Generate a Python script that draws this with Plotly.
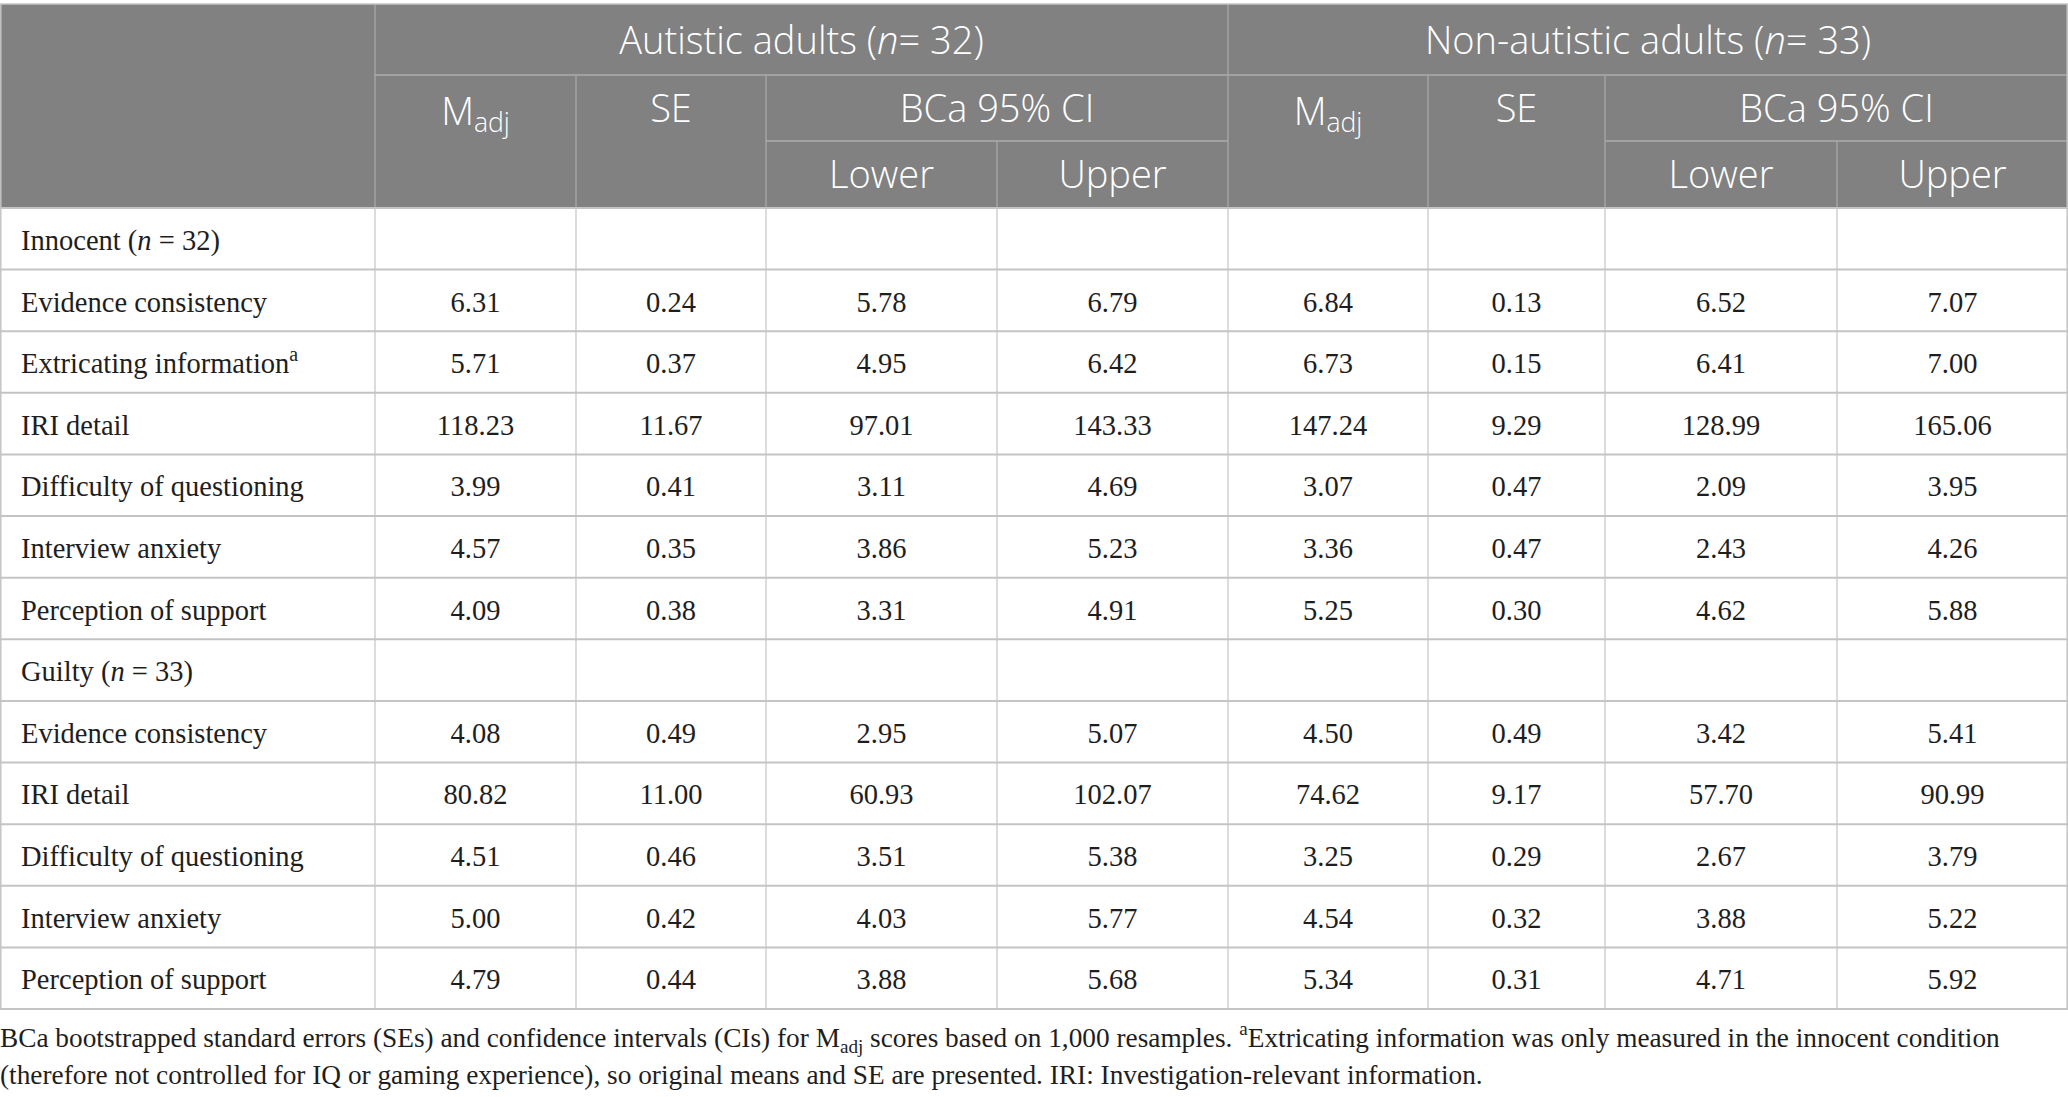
import plotly.graph_objects as go

# ---------------- data ----------------
group_labels = ["Autistic adults (<i>n</i>= 32)", "Non-autistic adults (<i>n</i>= 33)"]
sub_headers = ["M<sub>adj</sub>", "SE", "BCa 95% CI"]
ci_headers = ["Lower", "Upper"]

innocent_title = "Innocent (<i>n</i> = 32)"
innocent_measures = ["Evidence consistency", "Extricating information<sup>a</sup>", "IRI detail",
                     "Difficulty of questioning", "Interview anxiety", "Perception of support"]
inn_aut_m = ["6.31", "5.71", "118.23", "3.99", "4.57", "4.09"]
inn_aut_se = ["0.24", "0.37", "11.67", "0.41", "0.35", "0.38"]
inn_aut_lo = ["5.78", "4.95", "97.01", "3.11", "3.86", "3.31"]
inn_aut_hi = ["6.79", "6.42", "143.33", "4.69", "5.23", "4.91"]
inn_non_m = ["6.84", "6.73", "147.24", "3.07", "3.36", "5.25"]
inn_non_se = ["0.13", "0.15", "9.29", "0.47", "0.47", "0.30"]
inn_non_lo = ["6.52", "6.41", "128.99", "2.09", "2.43", "4.62"]
inn_non_hi = ["7.07", "7.00", "165.06", "3.95", "4.26", "5.88"]

guilty_title = "Guilty (<i>n</i> = 33)"
guilty_measures = ["Evidence consistency", "IRI detail", "Difficulty of questioning",
                   "Interview anxiety", "Perception of support"]
gui_aut_m = ["4.08", "80.82", "4.51", "5.00", "4.79"]
gui_aut_se = ["0.49", "11.00", "0.46", "0.42", "0.44"]
gui_aut_lo = ["2.95", "60.93", "3.51", "4.03", "3.88"]
gui_aut_hi = ["5.07", "102.07", "5.38", "5.77", "5.68"]
gui_non_m = ["4.50", "74.62", "3.25", "4.54", "5.34"]
gui_non_se = ["0.49", "9.17", "0.29", "0.32", "0.31"]
gui_non_lo = ["3.42", "57.70", "2.67", "3.88", "4.71"]
gui_non_hi = ["5.41", "90.99", "3.79", "5.22", "5.92"]

footnote_lines = [
    "BCa bootstrapped standard errors (SEs) and confidence intervals (CIs) for M<sub>adj</sub> scores based on 1,000 resamples. "
    "<sup>a</sup>Extricating information was only measured in the innocent condition",
    "(therefore not controlled for IQ or gaming experience), so original means and SE are presented. IRI: Investigation-relevant information.",
]

# ---------------- layout constants ----------------
W, H = 2068, 1097
col_edges = [0, 375, 576, 766, 997, 1228, 1428, 1605, 1837, 2068]
head_top, head_r1, head_r2, head_bot = 4, 75, 141, 208
n_rows = 1 + len(innocent_measures) + 1 + len(guilty_measures)
table_bot = 1009
row_h = (table_bot - head_bot) / n_rows
row_edges = [head_bot + i * row_h for i in range(n_rows + 1)]

HEAD_BG = "#808180"
HEAD_LINE = "#acacac"
GRID = "#c4c4c4"
TXT = "#1e1e1e"
SERIF = "Liberation Serif"
SANS = "Open Sans"

# rows
rows = [[innocent_title] + [""] * 8]
for i, name in enumerate(innocent_measures):
    rows.append([name, inn_aut_m[i], inn_aut_se[i], inn_aut_lo[i], inn_aut_hi[i],
                 inn_non_m[i], inn_non_se[i], inn_non_lo[i], inn_non_hi[i]])
rows.append([guilty_title] + [""] * 8)
for i, name in enumerate(guilty_measures):
    rows.append([name, gui_aut_m[i], gui_aut_se[i], gui_aut_lo[i], gui_aut_hi[i],
                 gui_non_m[i], gui_non_se[i], gui_non_lo[i], gui_non_hi[i]])

fig = go.Figure()
shapes = []

# header background
shapes.append(dict(type="rect", x0=0, x1=W, y0=head_top, y1=head_bot, fillcolor=HEAD_BG,
                   line=dict(width=0), layer="below"))

def hline(x0, x1, y, color, w=1.5):
    shapes.append(dict(type="line", x0=x0, x1=x1, y0=y, y1=y, line=dict(color=color, width=w)))

def vline(x, y0, y1, color, w=1.2):
    shapes.append(dict(type="line", x0=x, x1=x, y0=y0, y1=y1, line=dict(color=color, width=w)))

# header grid lines
hline(col_edges[1], W, head_r1, HEAD_LINE)
hline(col_edges[3], col_edges[5], head_r2, HEAD_LINE)
hline(col_edges[7], W, head_r2, HEAD_LINE)
vline(col_edges[1], head_top, head_bot, HEAD_LINE)
vline(col_edges[5], head_top, head_bot, HEAD_LINE)
for c in (2, 3, 6, 7):
    vline(col_edges[c], head_r1, head_bot, HEAD_LINE)
for c in (4, 8):
    vline(col_edges[c], head_r2, head_bot, HEAD_LINE)

# body grid
for y in row_edges:
    hline(0, W, y, GRID, 2)
for x in col_edges[1:-1]:
    vline(x, head_bot, table_bot, GRID)
vline(0.8, head_top, table_bot, GRID, 1.5)
vline(W - 0.8, head_top, table_bot, GRID, 1.5)
hline(0, W, head_top, GRID, 1.5)

# header texts
hx, hy, ht = [], [], []
for g in range(2):
    base = 1 + 4 * g
    hx.append((col_edges[base] + col_edges[base + 4]) / 2); hy.append((head_top + head_r1) / 2 + 5); ht.append(group_labels[g])
    hx.append((col_edges[base] + col_edges[base + 1]) / 2); hy.append((head_r1 + head_r2) / 2 + 7); ht.append(sub_headers[0])
    hx.append((col_edges[base + 1] + col_edges[base + 2]) / 2); hy.append((head_r1 + head_r2) / 2 + 4); ht.append(sub_headers[1])
    hx.append((col_edges[base + 2] + col_edges[base + 4]) / 2); hy.append((head_r1 + head_r2) / 2 + 4); ht.append(sub_headers[2])
    hx.append((col_edges[base + 2] + col_edges[base + 3]) / 2); hy.append((head_r2 + head_bot) / 2 + 4); ht.append(ci_headers[0])
    hx.append((col_edges[base + 3] + col_edges[base + 4]) / 2); hy.append((head_r2 + head_bot) / 2 + 4); ht.append(ci_headers[1])
fig.add_trace(go.Scatter(x=hx, y=hy, text=ht, mode="text", textposition="middle center",
                         textfont=dict(family=SANS, size=38, color="white", weight=300),
                         hoverinfo="skip", showlegend=False))

# body texts
lx, ly, lt = [], [], []
nx, ny, nt = [], [], []
for r, row in enumerate(rows):
    yc = (row_edges[r] + row_edges[r + 1]) / 2 + 4
    lx.append(21); ly.append(yc); lt.append(row[0])
    for c in range(1, 9):
        if row[c]:
            nx.append((col_edges[c] + col_edges[c + 1]) / 2); ny.append(yc); nt.append(row[c])
fig.add_trace(go.Scatter(x=lx, y=ly, text=lt, mode="text", textposition="middle right",
                         textfont=dict(family=SERIF, size=28.5, color=TXT),
                         hoverinfo="skip", showlegend=False))
fig.add_trace(go.Scatter(x=nx, y=ny, text=nt, mode="text", textposition="middle center",
                         textfont=dict(family=SERIF, size=28.5, color=TXT),
                         hoverinfo="skip", showlegend=False))

# footnote
fy = [1040, 1077]
fig.add_trace(go.Scatter(x=[0, 0], y=fy, text=footnote_lines, mode="text", textposition="middle right",
                         textfont=dict(family=SERIF, size=27.3, color=TXT),
                         hoverinfo="skip", showlegend=False))

fig.update_layout(
    width=W, height=H, margin=dict(l=0, r=0, t=0, b=0),
    paper_bgcolor="white", plot_bgcolor="white",
    xaxis=dict(range=[0, W], visible=False, fixedrange=True),
    yaxis=dict(range=[H, 0], visible=False, fixedrange=True),
    shapes=shapes,
)
fig.write_html("out.html", config={"displayModeBar": False},
               post_script="document.body.style.margin='0';document.body.style.overflow='hidden';")
